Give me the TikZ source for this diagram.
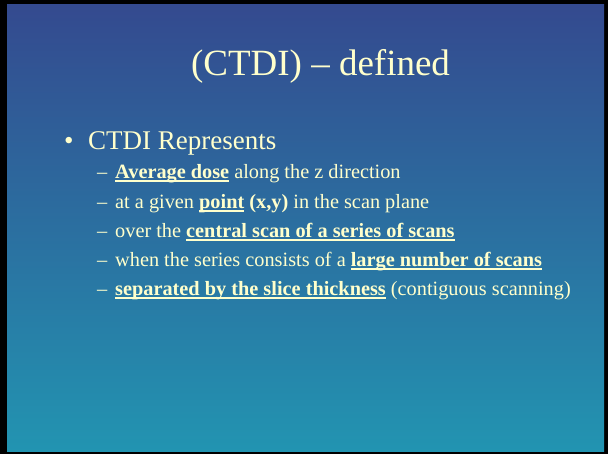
\documentclass[tikz,border=0pt]{standalone}
\usepackage{fontspec}
\setmainfont{Liberation Serif}
\definecolor{slidetop}{RGB}{52,74,143}
\definecolor{slidebottom}{RGB}{34,148,177}
\definecolor{slidetext}{RGB}{255,255,204}
% bold text with a thick underline
\newcommand{\ulbold}[1]{\setbox0\hbox{\bfseries #1}\rlap{\color{slidetext}\rule[-3.2pt]{\wd0}{1.7pt}}\box0\relax}
\tikzset{
  titletext/.style={anchor=base, text=slidetext, inner sep=0pt, font=\fontsize{37}{44}\selectfont},
  lvlone/.style={anchor=base west, text=slidetext, inner sep=0pt, font=\fontsize{27}{32}\selectfont},
  lvltwo/.style={anchor=base west, text=slidetext, inner sep=0pt, font=\fontsize{20.3}{24}\selectfont}
}
\begin{document}
\begin{tikzpicture}[x=1pt,y=-1pt]
	\useasboundingbox (0,0) rectangle (608,454);
	\fill[black] (0,0) rectangle (608,454);
	\shade[top color=slidetop, bottom color=slidebottom] (7,5) rectangle (604,451);
	
	\node[titletext] (title) at (320.5,76) {(CTDI) -- defined};
	
	\node[lvlone] (b1) at (64,150) {\textbullet};
	\node[lvlone] (rep) at (88,150) {CTDI Represents};
	
	\foreach \i/\y in {1/179,2/209,3/238,4/267,5/296}
		\node[lvltwo] (d\i) at (97,\y) {--};
	
	\node[lvltwo] (avg) at (115,179) {\ulbold{Average dose} along the z direction};
	\node[lvltwo] (pnt) at (115,209) {at a given \ulbold{point} \textbf{(x,y)} in the scan plane};
	\node[lvltwo] (ctr) at (115,238) {over the \ulbold{central scan of a series of scans}};
	\node[lvltwo] (lrg) at (115,267) {when the series consists of a \ulbold{large number of scans}};
	\node[lvltwo] (sep) at (115,296) {\ulbold{separated by the slice thickness} (contiguous scanning)};
\end{tikzpicture}
\end{document}
